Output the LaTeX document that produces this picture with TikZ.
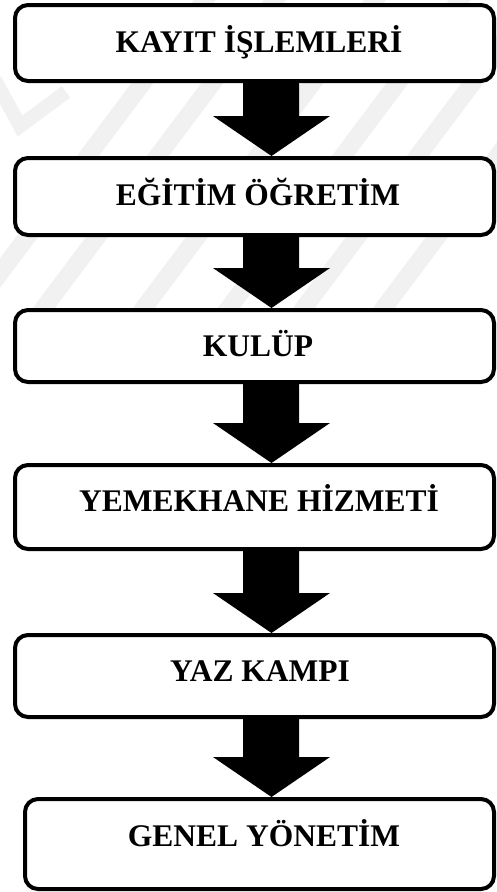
\documentclass[tikz,border=0pt]{standalone}
\usepackage{fontspec}
\setmainfont{Liberation Serif}
\usetikzlibrary{calc}
\definecolor{wmgray}{HTML}{F1F1F1}
% filled block arrow from the bottom of one stage to the top of the next
\newcommand\flowarrow[2]{%
  \fill let \p1=(#1.south), \p2=(#2.north) in
    (243pt,\y1) -- (299pt,\y1) -- (299pt,\y2+40pt) -- (330pt,\y2+40pt)
    -- (271.5pt,\y2) -- (213pt,\y2+40pt) -- (243pt,\y2+40pt) -- cycle;}
\begin{document}
\begin{tikzpicture}[x=1pt,y=-1pt,
  stage/.style={draw=black, fill=white, line width=4pt, rounded corners=13pt,
                minimum width=479pt, minimum height=#1pt, inner sep=0pt},
  lbl/.style={font=\bfseries\fontsize{31.5}{36}\selectfont, inner sep=0pt, anchor=base}]
\useasboundingbox (0,0) rectangle (497,892);
\fill[white] (0,0) rectangle (497,892);

% faint diagonal background stripes
\begin{scope}
  \clip (0,0) rectangle (497,320);
  \foreach \x in {70,140,240,325,400,480}
    \fill[wmgray] (\x+123.75,0) -- (\x+145.75,0) -- (\x-94.25,320) -- (\x-116.25,320) -- cycle;
  \draw[wmgray, line width=14pt, line join=miter] (-5,80) -- (20,126) -- (66,92);
\end{scope}

% stages
\node[stage=76] (b1) at (254.5,43) {};
\node[stage=77] (b2) at (254.5,196.5) {};
\node[stage=72] (b3) at (254.5,346) {};
\node[stage=84] (b4) at (254.5,507) {};
\node[stage=82] (b5) at (254.5,676) {};
\node[stage=90, minimum width=469pt] (b6) at (259.5,844) {};

% stage titles
\node[lbl] (t1) at (259,52) {KAYIT İŞLEMLERİ};
\node[lbl] (t2) at (258,205) {EĞİTİM ÖĞRETİM};
\node[lbl] (t3) at (258,356.5) {KULÜP};
\node[lbl] (t4) at (259,511.5) {YEMEKHANE HİZMETİ};
\node[lbl] (t5) at (260,681.5) {YAZ KAMPI};
\node[lbl] (t6) at (264,846.5) {GENEL YÖNETİM};

% arrows between stages
\flowarrow{b1}{b2}
\flowarrow{b2}{b3}
\flowarrow{b3}{b4}
\flowarrow{b4}{b5}
\flowarrow{b5}{b6}
\end{tikzpicture}
\end{document}
